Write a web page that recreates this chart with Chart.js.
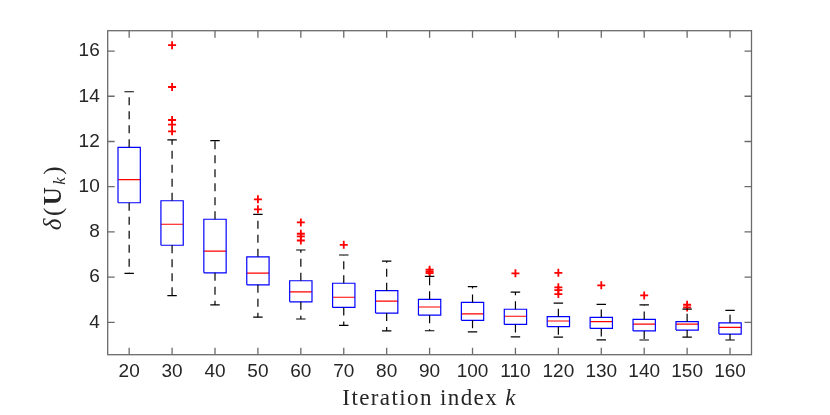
<!DOCTYPE html>
<html lang="en">
<head>
  <meta charset="UTF-8">
  <title>Box plot</title>
  <script src="https://cdn.jsdelivr.net/npm/chart.js"></script>
  <style>
    html, body { margin: 0; padding: 0; background: #fff; }
    .chart-container { width: 830px; height: 415px; }
  </style>
</head>
<body>

<div class="chart-container">
  <canvas id="box-chart"></canvas>
</div>

<script>
// Iteration index k
const categories = ['20', '30', '40', '50', '60', '70', '80', '90', '100', '110', '120', '130', '140', '150', '160'];

// box statistics per category
const whiskerLow  = [6.17, 5.18, 4.77, 4.23, 4.15, 3.87, 3.62, 3.63, 3.58, 3.36, 3.35, 3.23, 3.22, 3.35, 3.22];
const q1          = [9.29, 7.41, 6.19, 5.66, 4.91, 4.66, 4.41, 4.32, 4.09, 3.91, 3.81, 3.73, 3.62, 3.66, 3.48];
const median      = [10.31, 8.34, 7.15, 6.18, 5.35, 5.11, 4.94, 4.68, 4.38, 4.27, 4.06, 4.03, 3.92, 3.92, 3.78];
const q3          = [11.74, 9.38, 8.56, 6.90, 5.84, 5.73, 5.40, 5.02, 4.88, 4.58, 4.25, 4.22, 4.13, 4.03, 3.98];
const whiskerHigh = [14.20, 12.07, 12.04, 8.78, 7.20, 6.98, 6.71, 6.03, 5.58, 5.34, 4.85, 4.80, 4.77, 4.59, 4.53];

// outliers per category
const outliers = [
  [],
  [16.26, 14.41, 12.95, 12.75, 12.45],
  [],
  [9.44, 9.00],
  [8.42, 7.92, 7.80, 7.62],
  [7.43],
  [],
  [6.33, 6.25, 6.18],
  [],
  [6.17],
  [6.19, 5.55, 5.43, 5.25],
  [5.64],
  [5.19],
  [4.78, 4.66],
  []
];

// y tick labels
const yTicks = [4, 6, 8, 10, 12, 14, 16];

const boxHalf = 0.26;
const capHalf = 0.11;

// build broken polylines, one segment group per category
function segments(fn) {
  const pts = [];
  categories.forEach((c, i) => {
    fn(i + 1, i).forEach(p => pts.push(p));
    pts.push({ x: i + 1, y: null });
  });
  return pts;
}

const whiskerPts = segments((x, i) => [
  { x: x, y: q3[i] }, { x: x, y: whiskerHigh[i] }, { x: x, y: null },
  { x: x, y: q1[i] }, { x: x, y: whiskerLow[i] }
]);
const capPts = segments((x, i) => [
  { x: x - capHalf, y: whiskerHigh[i] }, { x: x + capHalf, y: whiskerHigh[i] }, { x: x, y: null },
  { x: x - capHalf, y: whiskerLow[i] }, { x: x + capHalf, y: whiskerLow[i] }
]);
const boxPts = segments((x, i) => [
  { x: x - boxHalf, y: q1[i] }, { x: x + boxHalf, y: q1[i] },
  { x: x + boxHalf, y: q3[i] }, { x: x - boxHalf, y: q3[i] },
  { x: x - boxHalf, y: q1[i] }
]);
const medianPts = segments((x, i) => [
  { x: x - boxHalf, y: median[i] }, { x: x + boxHalf, y: median[i] }
]);
const outlierPts = [];
outliers.forEach((list, i) => list.forEach(v => outlierPts.push({ x: i + 1, y: v })));

function lineSet(data, color, dash) {
  return {
    type: 'scatter',
    data: data,
    showLine: true,
    spanGaps: false,
    borderColor: color,
    borderWidth: 1.2,
    borderDash: dash || [],
    pointRadius: 0,
    pointHoverRadius: 0,
    tension: 0
  };
}

// frame, inward tick marks and the two axis labels
const framePlugin = {
  id: 'frame',
  afterDraw(chart) {
    const ctx = chart.ctx;
    const a = chart.chartArea;
    const xs = chart.scales.x, ys = chart.scales.y;
    ctx.save();
    ctx.strokeStyle = '#6b6b6b';
    ctx.lineWidth = 1.3;
    ctx.strokeRect(a.left, a.top, a.right - a.left, a.bottom - a.top);
    ctx.beginPath();
    const len = 7;
    categories.forEach((c, i) => {
      const px = xs.getPixelForValue(i + 1);
      ctx.moveTo(px, a.bottom); ctx.lineTo(px, a.bottom - len);
      ctx.moveTo(px, a.top); ctx.lineTo(px, a.top + len);
    });
    yTicks.forEach(v => {
      const py = ys.getPixelForValue(v);
      ctx.moveTo(a.left, py); ctx.lineTo(a.left + len, py);
      ctx.moveTo(a.right, py); ctx.lineTo(a.right - len, py);
    });
    ctx.stroke();

    // x label: Iteration index k
    ctx.fillStyle = '#262626';
    ctx.textBaseline = 'alphabetic';
    ctx.textAlign = 'left';
    ctx.letterSpacing = '1.4px';
    const fPlain = '23px "Liberation Serif"';
    const fItal = 'italic 23px "Liberation Serif"';
    ctx.font = fPlain;
    const w1 = ctx.measureText('Iteration index ').width;
    ctx.font = fItal;
    const w2 = ctx.measureText('k').width;
    const cx = (a.left + a.right) / 2;
    let x0 = cx - (w1 + w2) / 2;
    ctx.font = fPlain;
    ctx.fillText('Iteration index ', x0, 405);
    ctx.font = fItal;
    ctx.fillText('k', x0 + w1, 405);

    // y label: delta(U_k)
    ctx.letterSpacing = '0px';
    const gap = 2.5;
    const parts = [
      { t: '\u03B4', f: 'italic 25px "Liberation Serif"', dy: 0 },
      { t: '(', f: '25px "Liberation Serif"', dy: 0 },
      { t: 'U', f: 'bold 25px "Liberation Serif"', dy: 0 },
      { t: 'k', f: 'italic 17px "Liberation Serif"', dy: 4 },
      { t: ')', f: '25px "Liberation Serif"', dy: 0 }
    ];
    let total = 0;
    parts.forEach(p => { ctx.font = p.f; p.w = ctx.measureText(p.t).width + gap; total += p.w; });
    ctx.translate(61, 197);
    ctx.rotate(-Math.PI / 2);
    let px = -total / 2;
    parts.forEach(p => {
      ctx.font = p.f;
      ctx.fillText(p.t, px, p.dy);
      px += p.w;
    });
    ctx.restore();
  }
};

const ctx = document.getElementById('box-chart').getContext('2d');
const boxChart = new Chart(ctx, {
  type: 'scatter',
  data: {
    datasets: [
      lineSet(whiskerPts, '#000000', [8, 6]),
      lineSet(capPts, '#000000'),
      lineSet(boxPts, '#0000ff'),
      lineSet(medianPts, '#ff0000'),
      {
        type: 'scatter',
        data: outlierPts,
        pointStyle: 'cross',
        pointRadius: 4,
        pointHoverRadius: 4,
        borderColor: '#ff0000',
        backgroundColor: '#ff0000',
        pointBorderWidth: 1.8,
        showLine: false
      }
    ]
  },
  options: {
    responsive: true,
    maintainAspectRatio: false,
    animation: false,
    layout: { padding: { top: 30.7, right: 78.5, left: 0, bottom: 0 } },
    plugins: {
      legend: { display: false },
      tooltip: { enabled: false }
    },
    scales: {
      x: {
        type: 'linear',
        min: 0.5,
        max: 15.5,
        grid: { display: false, drawTicks: false },
        border: { display: false },
        afterBuildTicks: s => { s.ticks = categories.map((c, i) => ({ value: i + 1 })); },
        afterFit: s => { s.height = 60.3; },
        ticks: {
          autoSkip: false,
          maxRotation: 0,
          padding: 6,
          color: '#262626',
          font: { family: '"Liberation Sans"', size: 19 },
          callback: v => categories[v - 1]
        }
      },
      y: {
        min: 2.57,
        max: 16.9,
        grid: { display: false, drawTicks: false },
        border: { display: false },
        afterBuildTicks: s => { s.ticks = yTicks.map(v => ({ value: v })); },
        afterFit: s => { s.width = 107.7; },
        ticks: {
          padding: 8,
          color: '#262626',
          font: { family: '"Liberation Sans"', size: 19 }
        }
      }
    }
  },
  plugins: [framePlugin]
});
</script>

</body>
</html>
